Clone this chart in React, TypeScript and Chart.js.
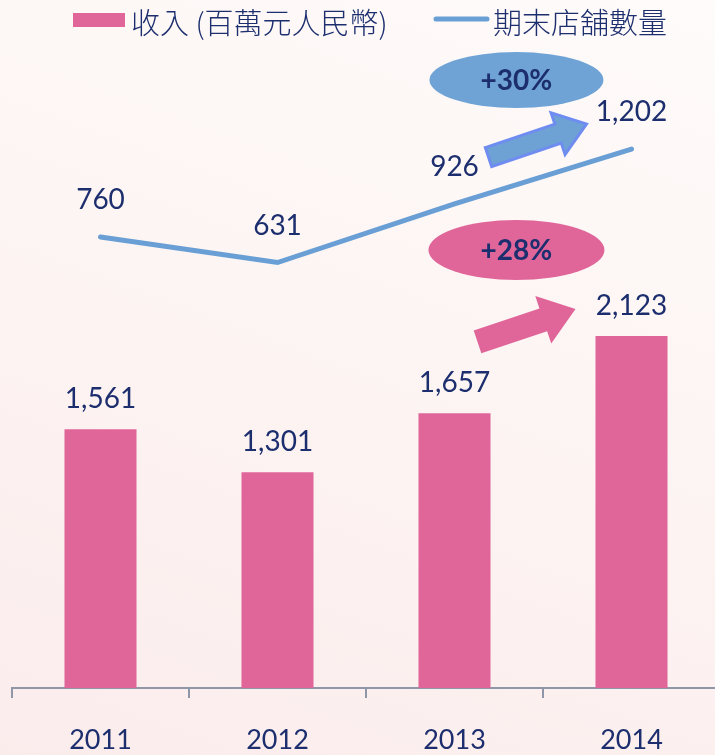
import React, { useEffect, useRef } from "react";
import { Chart, registerables } from "chart.js";

Chart.register(...registerables);

const years = ["2011", "2012", "2013", "2014"];
const revenue = [1561, 1301, 1657, 2123];
const stores = [760, 631, 926, 1202];
const revenueLabel = "收入 (百萬元人民幣)";
const storesLabel = "期末店舖數量";
const storesGrowth = "+30%";
const revenueGrowth = "+28%";

const PINK = "#e0669a";
const BLUE = "#6a9fd5";
const NAVY = "#1c2e6e";
const NUM_FONT = "Lato, 'Noto Sans', sans-serif";
const CJK_FONT = "'Noto Sans CJK TC', 'Noto Sans CJK SC', sans-serif";

function drawArrow(ctx: CanvasRenderingContext2D, x0: number, y0: number, x1: number, y1: number, shaft: number, headW: number, headL: number, fill: string, stroke?: string) {
  const ang = Math.atan2(y1 - y0, x1 - x0);
  const len = Math.hypot(x1 - x0, y1 - y0);
  ctx.save();
  ctx.translate(x0, y0);
  ctx.rotate(ang);
  ctx.beginPath();
  ctx.moveTo(0, -shaft / 2);
  ctx.lineTo(len - headL, -shaft / 2);
  ctx.lineTo(len - headL, -headW / 2);
  ctx.lineTo(len, 0);
  ctx.lineTo(len - headL, headW / 2);
  ctx.lineTo(len - headL, shaft / 2);
  ctx.lineTo(0, shaft / 2);
  ctx.closePath();
  ctx.fillStyle = fill;
  ctx.fill();
  if (stroke) {
    ctx.lineWidth = 3;
    ctx.strokeStyle = stroke;
    ctx.lineJoin = "miter";
    ctx.stroke();
  }
  ctx.restore();
}

function drawBadge(ctx: CanvasRenderingContext2D, cx: number, cy: number, rx: number, ry: number, fill: string, text: string) {
  ctx.save();
  ctx.beginPath();
  ctx.ellipse(cx, cy, rx, ry, 0, 0, Math.PI * 2);
  ctx.fillStyle = fill;
  ctx.fill();
  ctx.fillStyle = NAVY;
  ctx.font = `bold 28px ${NUM_FONT}`;
  ctx.textAlign = "center";
  ctx.textBaseline = "middle";
  ctx.fillText(text, cx, cy + 1);
  ctx.restore();
}

const overlayPlugin = {
  id: "overlay",
  afterDatasetsDraw(chart: any) {
    const ctx: CanvasRenderingContext2D = chart.ctx;
    const barMeta = chart.getDatasetMeta(0);
    const lineMeta = chart.getDatasetMeta(1);
    ctx.save();
    ctx.fillStyle = NAVY;
    ctx.font = `28px ${NUM_FONT}`;
    ctx.textAlign = "center";
    ctx.textBaseline = "middle";
    barMeta.data.forEach((el: any, i: number) => {
      ctx.fillText(revenue[i].toLocaleString("en-US"), el.x, el.y - 30);
    });
    lineMeta.data.forEach((el: any, i: number) => {
      ctx.fillText(stores[i].toLocaleString("en-US"), el.x, el.y - 37);
    });
    ctx.restore();

    // annotations anchored on the 2014 points
    const b = barMeta.data[3];
    const p = lineMeta.data[3];
    const step = barMeta.data[3].x - barMeta.data[2].x;
    // pink: revenue growth
    drawArrow(ctx, b.x - 154, b.y + 6, b.x - 56, b.y - 27, 24, 50, 34, PINK);
    drawBadge(ctx, b.x - step * 0.65, b.y - 86, 88, 30, PINK, revenueGrowth);
    // blue: store growth
    drawArrow(ctx, p.x - 143, p.y + 8, p.x - 45, p.y - 25, 20, 44, 30, "#6ea2d4", "#6f8cf0");
    drawBadge(ctx, p.x - step * 0.65, p.y - 69, 87, 28, "#6fa3d6", storesGrowth);

    // legend
    ctx.save();
    ctx.fillStyle = PINK;
    ctx.fillRect(73, 13, 52, 14);
    ctx.strokeStyle = BLUE;
    ctx.lineWidth = 5;
    ctx.lineCap = "round";
    ctx.beginPath();
    ctx.moveTo(436, 19);
    ctx.lineTo(487, 19);
    ctx.stroke();
    ctx.fillStyle = NAVY;
    ctx.font = `300 29px ${CJK_FONT}`;
    ctx.textAlign = "left";
    ctx.textBaseline = "middle";
    ctx.fillText(revenueLabel, 131, 23);
    ctx.fillText(storesLabel, 493, 23);
    ctx.restore();
  },
};

export default function App() {
  const ref = useRef<HTMLCanvasElement>(null);
  useEffect(() => {
    if (!ref.current) return;
    const top = 60;
    const bottom = 688;
    const barMax = (bottom - top) * 6.03;
    const lineZero = 388;
    const lineK = 5.03;
    const chart = new Chart(ref.current, {
      type: "bar",
      data: {
        labels: years,
        datasets: [
          {
            type: "bar",
            label: revenueLabel,
            data: revenue,
            backgroundColor: PINK,
            yAxisID: "y",
            barPercentage: 0.407,
            categoryPercentage: 1,
            order: 2,
          },
          {
            type: "line",
            label: storesLabel,
            data: stores,
            borderColor: BLUE,
            borderWidth: 5,
            pointRadius: 0,
            tension: 0,
            borderCapStyle: "round",
            borderJoinStyle: "miter",
            yAxisID: "y1",
            order: 1,
          } as any,
        ],
      },
      options: {
        responsive: false,
        animation: false,
        devicePixelRatio: 1,
        layout: { padding: { left: 12, right: 10, top: top, bottom: 2 } },
        plugins: { legend: { display: false }, tooltip: { enabled: false } },
        scales: {
          x: {
            grid: { display: true, drawOnChartArea: false, drawTicks: true, tickLength: 10, color: "#8e96a8", lineWidth: 2, offset: true },
            border: { display: true, color: "#8e96a8", width: 2 },
            ticks: { color: NAVY, font: { family: NUM_FONT, size: 27, lineHeight: 1 }, padding: 29 },
          },
          y: { display: false, min: 0, max: barMax },
          y1: { display: false, position: "right", min: -(bottom - lineZero) * lineK, max: (lineZero - top) * lineK },
        },
      },
      plugins: [overlayPlugin],
    });
    return () => chart.destroy();
  }, []);
  return (
    <div
      style={{
        position: "fixed",
        left: 0,
        top: 0,
        width: 715,
        height: 755,
        overflow: "hidden",
        background: "linear-gradient(200deg, #fefbfa 0%, #fdf5f3 45%, #fbecec 100%)",
      }}
    >
      <canvas ref={ref} width={730} height={785} style={{ display: "block", width: 730, height: 785 }} />
    </div>
  );
}
